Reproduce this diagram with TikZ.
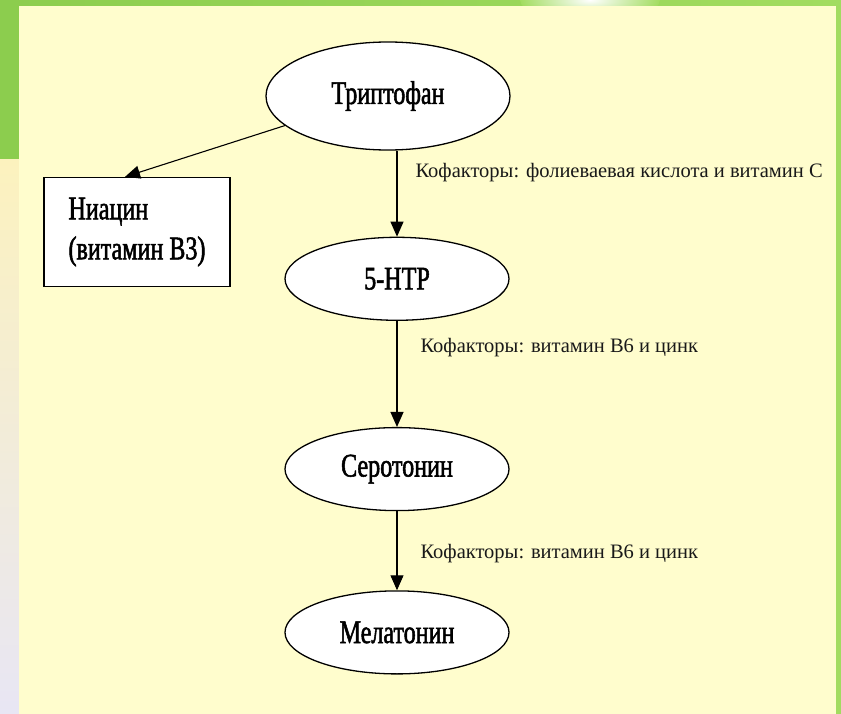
\documentclass[tikz,border=0pt]{standalone}
\usepackage{fontspec}
\setmainfont{Liberation Serif}
\newfontfamily\chemfont[FakeStretch=0.73,FakeBold=1.6]{Liberation Serif}
\usetikzlibrary{shapes.geometric,arrows.meta,positioning}
\definecolor{Leaf}{RGB}{162,220,96}
\definecolor{LeafDk}{RGB}{140,205,78}
\definecolor{Cream}{RGB}{255,253,205}
\definecolor{Peach}{RGB}{252,242,190}
\definecolor{Lilac}{RGB}{232,230,244}
\newcommand{\kof}[1]{Кофакторы: #1}
\tikzset{
  chem/.style={ellipse,draw=black,fill=white,line width=1.3pt,
               font=\chemfont\fontsize{33}{38}\selectfont,
               minimum width=224pt,minimum height=83pt,inner sep=0pt},
  prod/.style={rectangle,draw=black,fill=white,line width=1.3pt,
               font=\chemfont\fontsize{33}{40}\selectfont,align=left,
               minimum width=186pt,minimum height=109pt},
  kofl/.style={anchor=west,font=\fontsize{20.5}{24}\selectfont,text=black!90,
               inner sep=0pt},
  flow/.style={-{Triangle[length=15pt,width=13pt]},line width=1.1pt},
}

\begin{document}
\begin{tikzpicture}[x=1pt,y=-1pt]
  \useasboundingbox (0,0) rectangle (841,714);
  % slide backdrop
  \fill[left color=LeafDk,right color=Leaf] (0,0) rectangle (841,714);
  \shade[inner color=white,outer color=Leaf] (590,0) ellipse [x radius=70,y radius=22];
  \shade[top color=Peach,middle color=white,bottom color=Lilac] (0,160) rectangle (19,714);
  \fill[Cream] (19,6) rectangle (836,714);

  % pathway
  \node[chem,minimum width=244pt,minimum height=108pt] (trp) at (388,96) {Триптофан};
  \node[chem,below=86pt of trp,xshift=9pt] (htp) {5-HTP};
  \node[chem,below=106pt of htp] (ser) {Серотонин};
  \node[chem,below=79pt of ser] (mel) {Мелатонин};
  \node[prod] (nia) at (137,232) {Ниацин\\(витамин В3)};

  \draw[flow] (trp.196) -- ([xshift=-12pt]nia.north);
  \draw[flow] (trp.south -| htp.north) --
    node[kofl,pos=0.26,xshift=18pt] (k1) {\kof{фолиеваевая кислота и витамин С}} (htp.north);
  \draw[flow] (htp) --
    node[kofl,pos=0.25,xshift=23pt] (k2) {\kof{витамин В6 и цинк}} (ser);
  \draw[flow] (ser) --
    node[kofl,pos=0.53,xshift=23pt] (k3) {\kof{витамин В6 и цинк}} (mel);
\end{tikzpicture}
\end{document}
